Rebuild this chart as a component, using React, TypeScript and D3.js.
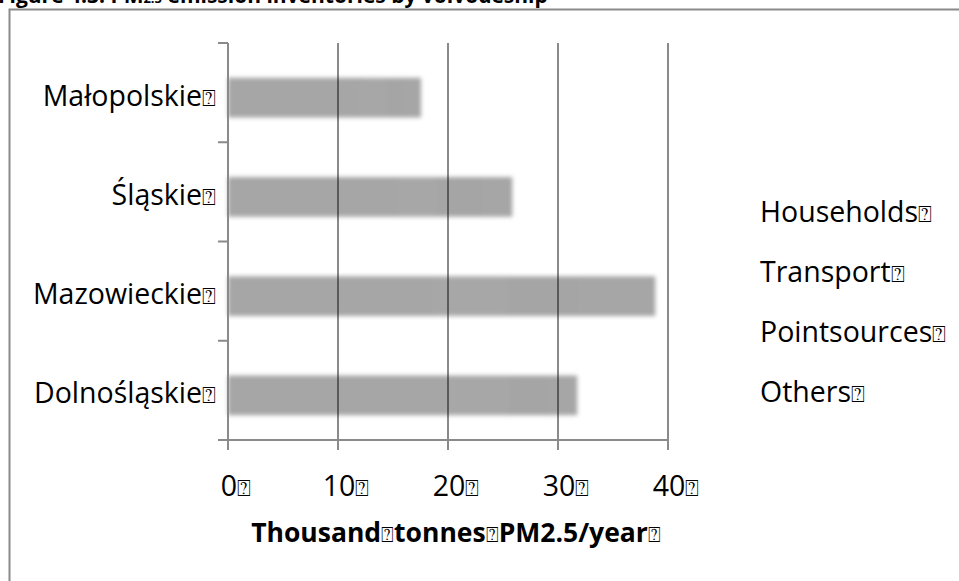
import React from "react";
import * as d3 from "d3";

const categories = ["Małopolskie", "Śląskie", "Mazowieckie", "Dolnośląskie"];
const seriesNames = ["Households", "Transport", "Point sources", "Others"];
const households = [12.0, 15.5, 18.6, 20.2];
const transport = [2.2, 3.5, 6.6, 5.4];
const pointSources = [1.8, 4.4, 6.6, 3.4];
const others = [1.5, 2.4, 7.0, 2.7];
const xTicks = [0, 10, 20, 30, 40];
const title = "Figure 4.3: PM";
const titleSub = "2.5";
const titleRest = " emission inventories by voivodeship";
const axisTitleParts = ["Thousand", "tonnes", "PM2.5/year"];

const W = 959;
const H = 581;
const FONT = "'Open Sans', 'DejaVu Sans', sans-serif";
const TOFU = "\u2370";
const segColors = ["#a6a6a6", "#a7a7a7", "#a5a5a5", "#a6a6a6"];

export default function App() {
  const x = d3.scaleLinear().domain([0, 40]).range([228, 668]);
  const y = d3.scaleBand().domain(categories).range([43, 440]).paddingInner(0.6).paddingOuter(0.3);
  const yEdges = d3.scaleLinear().domain([0, categories.length]).range([43, 440]);
  const table = categories.map((c, i) => ({
    cat: c,
    Households: households[i],
    Transport: transport[i],
    "Point sources": pointSources[i],
    Others: others[i],
  }));
  const stack = d3.stack<any>().keys(seriesNames)(table);
  const legendY = d3.scalePoint().domain(seriesNames).range([222, 402]);
  const barOffset = 5;
  const fs = 28.5;

  const Tofu = ({ size }: { size: number }) => (
    <tspan fontFamily="'DejaVu Sans', sans-serif" fontSize={size * 0.8} fontWeight="normal">{TOFU}</tspan>
  );

  return (
    <svg width={W} height={H} style={{ position: "absolute", left: 0, top: 0, background: "#fff" }} fontFamily={FONT}>
      <defs>
        <filter id="blur" x="-5%" y="-30%" width="110%" height="160%">
          <feGaussianBlur stdDeviation="2" />
        </filter>
      </defs>
      <rect x={0} y={0} width={W} height={H} fill="#fff" />
      {/* clipped figure caption */}
      <text x={-2} y={3} fontSize={21} fontWeight="bold" fill="#000">
        {title}
        <tspan fontSize={13}>{titleSub}</tspan>
        {titleRest}
      </text>
      {/* frame */}
      <path d={`M9.5,${H} V9.5 H${W}`} fill="none" stroke="#8a8a8a" strokeWidth={2} />

      {/* bars */}
      <g filter="url(#blur)">
        {stack.map((s, si) =>
          s.map((d, i) => (
            <rect
              key={`${si}-${i}`}
              x={x(d[0])}
              y={(y(categories[i]) as number) + barOffset}
              width={x(d[1]) - x(d[0]) + 0.5}
              height={y.bandwidth()}
              fill={segColors[si]}
            />
          ))
        )}
      </g>

      {/* gridlines */}
      {xTicks.slice(1).map((t) => (
        <line key={t} x1={x(t)} x2={x(t)} y1={43} y2={440} stroke="#000" strokeOpacity={0.46} strokeWidth={2} />
      ))}

      {/* y axis */}
      <line x1={x(0)} x2={x(0)} y1={43} y2={450} stroke="#8a8a8a" strokeWidth={2} />
      {d3.range(categories.length + 1).map((k) => (
        <line key={k} x1={218} x2={x(0)} y1={yEdges(k)} y2={yEdges(k)} stroke="#8a8a8a" strokeWidth={2} />
      ))}
      {/* x axis */}
      <line x1={218} x2={x(40)} y1={440} y2={440} stroke="#8a8a8a" strokeWidth={2} />
      {xTicks.map((t) => (
        <line key={t} x1={x(t)} x2={x(t)} y1={440} y2={450} stroke="#8a8a8a" strokeWidth={2} />
      ))}

      {/* category labels */}
      {categories.map((c) => (
        <text key={c} x={216} y={(y(c) as number) + barOffset + y.bandwidth() / 2 + 8} textAnchor="end" fontSize={fs} fill="#000">
          {c}
          <Tofu size={fs} />
        </text>
      ))}

      {/* x tick labels */}
      {xTicks.map((t) => (
        <text key={t} x={x(t) + 8} y={496} textAnchor="middle" fontSize={fs} fill="#000">
          {t}
          <Tofu size={fs} />
        </text>
      ))}

      {/* axis title */}
      <text x={456} y={542} textAnchor="middle" fontSize={26.5} fontWeight="bold" fill="#000">
        {axisTitleParts.map((p, i) => (
          <React.Fragment key={i}>
            {p}
            <Tofu size={26.5} />
          </React.Fragment>
        ))}
      </text>

      {/* legend */}
      {seriesNames.map((s) => (
        <text key={s} x={760} y={legendY(s)} fontSize={fs} fill="#000">
          {s.replace(" ", "")}
          <Tofu size={fs} />
        </text>
      ))}
    </svg>
  );
}
